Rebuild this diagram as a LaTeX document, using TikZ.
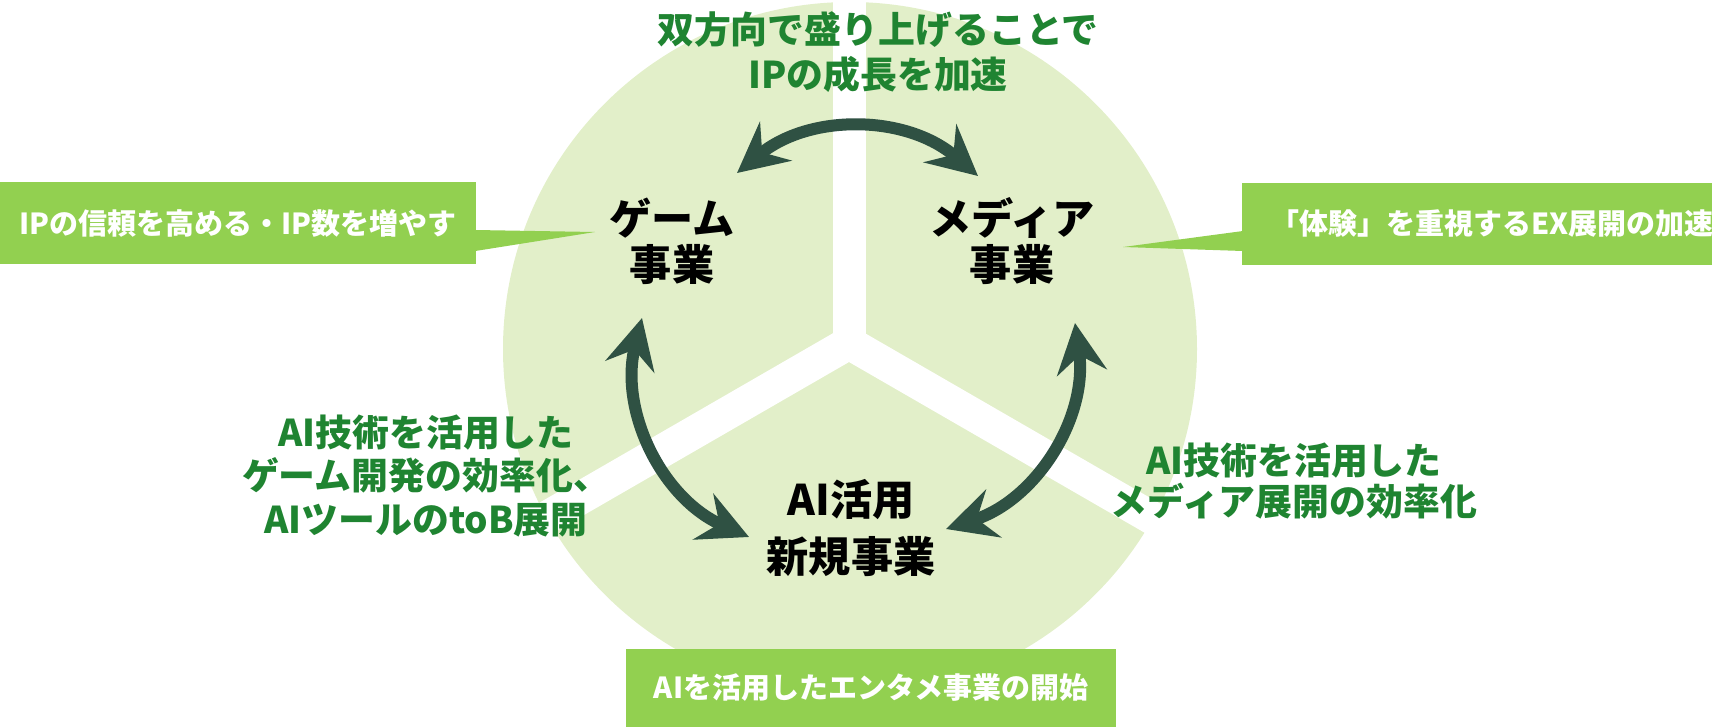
\documentclass[tikz,border=0pt]{standalone}
\usepackage{fontspec}
\setmainfont{Noto Sans CJK JP}
\usepackage{tikz}
\usetikzlibrary{arrows.meta, positioning}

\definecolor{pie}{HTML}{E2EFC9}
\definecolor{goalgreen}{HTML}{92D050}
\definecolor{gaingreen}{HTML}{1F8431}
\definecolor{cyclegreen}{HTML}{2F5143}

\begin{document}
\begin{tikzpicture}[x=0.02cm, y=-0.02cm,
    business/.style={font=\bfseries\fontsize{24}{26}\selectfont, align=center, inner sep=0pt},
    gain/.style={text=gaingreen, font=\bfseries\fontsize{21}{24.7}\selectfont, align=center, inner sep=0pt},
    goal/.style={fill=goalgreen, text=white, font=\bfseries\fontsize{16.5}{20}\selectfont, minimum height=1.64cm, inner sep=0pt},
    cyclearrow/.style={cyclegreen, line width=0.24cm, >={Stealth[length=1cm, width=1cm, inset=0.35cm]}, <->},
    gapline/.style={white, line width=0.66cm}]

    \useasboundingbox (0,0) rectangle (1712,727);

    \fill [pie] (850,349) circle (347);

    \coordinate (hub) at (849,343);
    \foreach \a in {270,150,30}
      \draw [gapline] (hub) -- ++(\a:420);

    \node [gain, font=\bfseries\fontsize{21}{25.5}\selectfont] (title) at (878,52) {双方向で盛り上げることで\\IPの成長を加速};

    \node [business] (game) at (672,241) {ゲーム\\事業};
    \node [business] (media) at (1012,241) {メディア\\事業};
    \node [business, font=\bfseries\fontsize{24}{32.3}\selectfont] (ai) at (851,528) {AI活用\\新規事業};

    \draw [cyclearrow] ([shift={(65,-68)}]game.center) to [bend left=40] ([shift={(-34,-65)}]media.center);
    \draw [cyclearrow] ([shift={(-30,77)}]game.center) to [bend right=40] ([shift={(-102,9)}]ai.center);
    \draw [cyclearrow] ([shift={(63,82)}]media.center) to [bend left=40] ([shift={(95,1)}]ai.center);

    \node [gain] (gain-game) at (426,476) {AI技術を活用した\\ゲーム開発の効率化、\\AIツールのtoB展開};
    \node [gain, font=\bfseries\fontsize{21}{23.8}\selectfont] (gain-media) at (1294,481) {AI技術を活用した\\メディア展開の効率化};

    \node [goal, minimum width=9.52cm] (goal-game) at (238,223) {IPの信頼を高める・IP数を増やす};
    \node [goal, anchor=west, inner xsep=0.56cm] (goal-media) at (1242,224) {「体験」を重視するEX展開の加速};
    \node [goal, minimum width=9.8cm, minimum height=1.58cm] (goal-ai) at (871,688) {AIを活用したエンタメ事業の開始};

    \fill [goalgreen] ([shift={(-1,7)}]goal-game.east) -- ([shift={(-14,-9)}]game.west) -- ([shift={(-1,28)}]goal-game.east) -- cycle;
    \fill [goalgreen] ([shift={(1,7)}]goal-media.west) -- ([shift={(28,6)}]media.east) -- ([shift={(1,27)}]goal-media.west) -- cycle;

\end{tikzpicture}
\end{document}
